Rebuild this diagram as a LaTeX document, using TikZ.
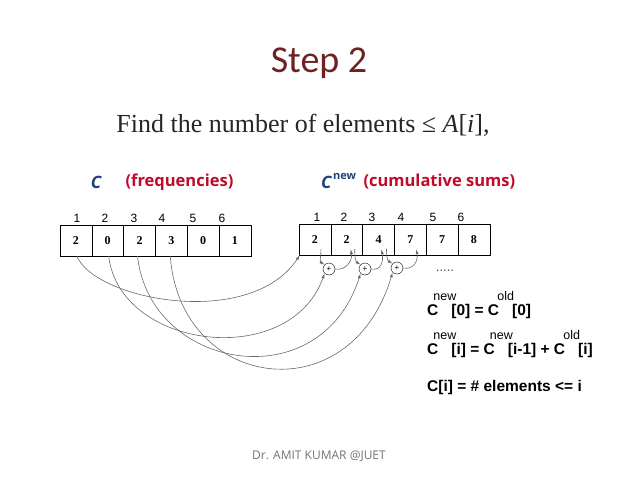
\documentclass[tikz,border=0pt]{standalone}
\usepackage{fontspec}
\setmainfont{Liberation Serif}
\newfontfamily\titlefont{Carlito}
\newfontfamily\armfont{Liberation Sans}
\newfontfamily\handfont{Open Sans}
\usetikzlibrary{arrows.meta,positioning}
\definecolor{titlered}{RGB}{110,34,34}
\definecolor{labblue}{RGB}{31,63,120}
\definecolor{labred}{RGB}{192,10,40}
\definecolor{curvegray}{RGB}{105,105,105}
\newcommand\supword[1]{\makebox[13pt][c]{\raisebox{15pt}{\mdseries\fontsize{12.5}{12.5}\selectfont #1}}}
\tikzset{
  cellbox/.style={draw, minimum width=31.8pt, minimum height=31pt, inner sep=0pt,
    font=\bfseries\fontsize{12}{12}\selectfont},
  idx/.style={inner sep=0pt, font=\armfont\fontsize{12}{12}\selectfont},
  plusnode/.style={circle, draw, minimum size=12pt, inner sep=0pt,
    font=\armfont\fontsize{8}{8}\selectfont},
  flow/.style={-{Latex[length=5pt,width=3pt]}, curvegray, line width=0.6pt},
  formula/.style={anchor=base west, inner sep=0pt,
    font=\armfont\bfseries\fontsize{15.5}{15.5}\selectfont},
  arrname/.style={text=labblue, font=\handfont\itshape\bfseries\fontsize{17}{17}\selectfont},
  arrnote/.style={text=labred, anchor=west, font=\handfont\bfseries\fontsize{16.5}{16.5}\selectfont},
}
\begin{document}
\begin{tikzpicture}[x=1pt, y=-1pt, line join=round, line cap=round]

    % Frame
    \useasboundingbox (0,0) rectangle (638,479);

    % Headings
    \node[text=titlered, font=\titlefont\fontsize{38}{38}\selectfont] (title) at (319,63) {Step 2};
    \node[text=black!85, font=\fontsize{26}{26}\selectfont] (task) at (303,125)
      {Find the number of elements ≤ \textit{A}[\textit{i}],};

    \node[arrname] (cname) at (96,182) {C};
    \node[arrnote] (freq) at (122,182) {(frequencies)};
    \node[arrname, anchor=east] (cnew) at (335,182) {C};
    \node[text=labblue, font=\handfont\bfseries\fontsize{11}{11}\selectfont, anchor=west, inner sep=0pt] (cnewsup) at (333,176) {new};
    \node[arrnote] (cum) at (360,182) {(cumulative sums)};

    % Arrays
    \foreach \v [count=\i] in {2,0,2,3,0,1}
      \node[cellbox] (c\i) at ({60+31.8*(\i-0.5)},240.5) {\v};
    \foreach \v [count=\i] in {2,2,4,7,7,8}
      \node[cellbox] (n\i) at ({299+31.8*(\i-0.5)},239.5) {\v};

    % Index numbers
    \foreach \x [count=\i] in {77,105,134,162,193,222}
      \node[idx] (ci\i) at (\x,218) {\i};
    \foreach \x [count=\i] in {317,344,372,401,433,461}
      \node[idx] (ni\i) at (\x,217) {\i};

    % Adders
    \node[plusnode] (p1) at (329,269) {+};
    \node[plusnode] (p2) at (365,269) {+};
    \node[plusnode] (p3) at (397,268) {+};

    % Long curves
    \draw[flow] ([xshift=1pt]c1.south) .. controls (95,300) and (250,330) .. ([xshift=1pt]n1.south west);
    \draw[flow] ([xshift=1pt]c2.south) .. controls (120,350) and (290,370) .. (p1.south west);
    \draw[flow] ([xshift=-2pt]c3.south) .. controls (150,370) and (320,400) .. (p2.south west);
    \draw[flow] ([xshift=-1pt]c4.south) .. controls (180,390) and (350,415) .. (p3.south west);

    % Short curves
    \draw[flow] ([xshift=6pt,yshift=6pt]n1.south) .. controls +(0,8) and +(-5,-3) .. (p1.north west);
    \draw[flow] (p1.east) .. controls +(10,2) and +(2,12) .. ([xshift=4pt,yshift=6pt]n2.south);
    \draw[flow] ([xshift=8pt,yshift=6pt]n2.south) .. controls +(0,8) and +(-5,-3) .. (p2.north west);
    \draw[flow] (p2.east) .. controls +(10,2) and +(2,12) .. ([xshift=3pt,yshift=6pt]n3.south);
    \draw[flow] ([xshift=8pt,yshift=6pt]n3.south) .. controls +(0,8) and +(-5,-3) .. (p3.north west);
    \draw[flow] (p3.east) .. controls +(10,2) and +(2,12) .. ([xshift=6pt,yshift=6pt]n4.south);

    \node[text=black!70, font=\armfont\fontsize{13}{13}\selectfont] (dots) at (445,271) {.....};

    % Formulas
    \node[formula] (f1) at (427,315) {C\supword{new}[0] = C\supword{old}[0]};
    \node[formula] (f2) at (427,354) {C\supword{new}[i] = C\supword{new}[i-1] + C\supword{old}[i]};
    \node[formula] (f3) at (427,391) {C[i] = \# elements <= i};

    % Footer
    \node[text=black!55, font=\handfont\fontsize{12}{12}\selectfont] (foot) at (319,456) {Dr. AMIT KUMAR @JUET};

\end{tikzpicture}
\end{document}
